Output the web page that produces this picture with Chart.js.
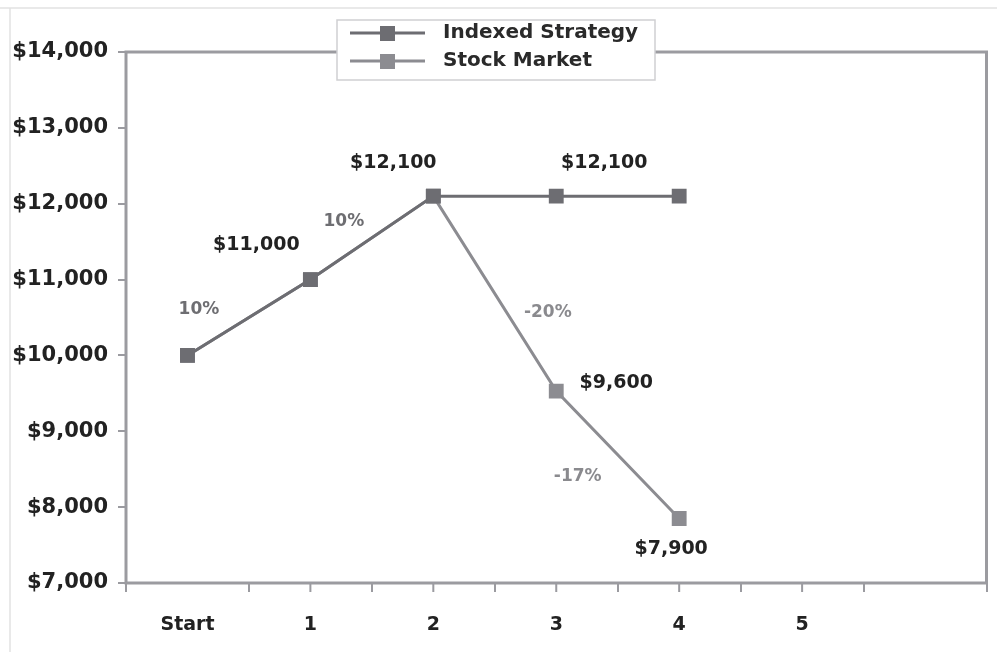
<!DOCTYPE html>
<html>
<head>
<meta charset="utf-8">
<script src="https://cdn.jsdelivr.net/npm/chart.js@4/dist/chart.umd.min.js"></script>
<style>
  html, body { margin: 0; padding: 0; background: #fff; }
  #wrap { width: 997px; height: 652px; position: relative; }
</style>
</head>
<body>
<div id="wrap"><canvas id="lineChart"></canvas></div>
<script>
// chart data
var categories = ['Start', '1', '2', '3', '4', '5', ''];
var indexedValues = [10000, 11000, 12100, 12100, 12100];
var stockValues = [10000, 11000, 12100, 9530, 7850];
var yTicks = [7000, 8000, 9000, 10000, 11000, 12000, 13000, 14000];

// text written next to points (value) and next to segments ending at the index (change)
var indexedValueText = [null, '$11,000', '$12,100', '$12,100', null];
var stockValueText = [null, null, null, '$9,600', '$7,900'];
var indexedChangeText = [null, '10%', '10%', null, null];
var stockChangeText = [null, null, null, '-20%', '-17%'];

var FONT = '"DejaVu Sans", sans-serif';
var AXIS = '#9b9ba0';

// where each note sits relative to its point / segment middle
var noteOffsets = {
    'v0-1': [-54, -35], 'v0-2': [-40, -33], 'v0-3': [48, -33],
    'v1-3': [60, -8], 'v1-4': [-8, 31],
    'c0-1': [-50, -8], 'c0-2': [-28, -16],
    'c1-3': [53, 19], 'c1-4': [-40, 22]
};

var notesPlugin = {
    id: 'notes',
    afterDatasetsDraw: function(chart) {
        var ctx = chart.ctx;
        var valueSets = [indexedValueText, stockValueText];
        var changeSets = [indexedChangeText, stockChangeText];
        ctx.save();
        ctx.textAlign = 'center';
        ctx.textBaseline = 'middle';
        for (var s = 0; s < 2; s++) {
            var pts = chart.getDatasetMeta(s).data;
            valueSets[s].forEach(function(t, i) {
                if (!t) return;
                var o = noteOffsets['v' + s + '-' + i];
                ctx.font = 'bold 19px ' + FONT;
                ctx.fillStyle = '#222';
                ctx.fillText(t, pts[i].x + o[0], pts[i].y + o[1]);
            });
            changeSets[s].forEach(function(t, i) {
                if (!t) return;
                var o = noteOffsets['c' + s + '-' + i];
                var mx = (pts[i - 1].x + pts[i].x) / 2;
                var my = (pts[i - 1].y + pts[i].y) / 2;
                ctx.font = 'bold 17px ' + FONT;
                ctx.fillStyle = s === 0 ? '#6e6e72' : '#8a8a8e';
                ctx.fillText(t, mx + o[0], my + o[1]);
            });
        }
        ctx.restore();
    }
};

var framePlugin = {
    id: 'frame',
    beforeDraw: function(chart) {
        var ctx = chart.ctx;
        ctx.save();
        // faint page edges from the original scan
        ctx.strokeStyle = '#e2e2e2';
        ctx.lineWidth = 1.5;
        ctx.beginPath();
        ctx.moveTo(0, 8); ctx.lineTo(chart.width, 8);
        ctx.moveTo(10, 8); ctx.lineTo(10, chart.height);
        ctx.stroke();
        ctx.restore();
    },
    afterDraw: function(chart) {
        var ctx = chart.ctx;
        var a = chart.chartArea;
        var x = chart.scales.x;
        ctx.save();
        ctx.strokeStyle = AXIS;
        ctx.lineWidth = 3;
        ctx.strokeRect(a.left, a.top, a.right - a.left, a.bottom - a.top);
        // small ticks under the numbered categories
        ctx.lineWidth = 2;
        ctx.beginPath();
        for (var i = 1; i <= 5; i++) {
            var px = x.getPixelForValue(i);
            ctx.moveTo(px, a.bottom);
            ctx.lineTo(px, a.bottom + 9);
        }
        ctx.stroke();

        // legend box
        var bx = 337, by = 20, bw = 318, bh = 60;
        ctx.fillStyle = '#fff';
        ctx.fillRect(bx, by, bw, bh);
        ctx.strokeStyle = '#cfcfd2';
        ctx.lineWidth = 1.5;
        ctx.strokeRect(bx, by, bw, bh);
        chart.data.datasets.forEach(function(ds, k) {
            var ly = by + 13 + k * 28;
            ctx.strokeStyle = ds.borderColor;
            ctx.lineWidth = 3;
            ctx.beginPath();
            ctx.moveTo(bx + 13, ly);
            ctx.lineTo(bx + 88, ly);
            ctx.stroke();
            ctx.fillStyle = ds.backgroundColor;
            ctx.fillRect(bx + 43, ly - 7, 15, 15);
            ctx.fillStyle = '#2a2a2a';
            ctx.font = 'bold 20px ' + FONT;
            ctx.textAlign = 'left';
            ctx.textBaseline = 'middle';
            ctx.fillText(ds.label, bx + 106, ly);
        });
        ctx.restore();
    }
};

var ctx = document.getElementById('lineChart').getContext('2d');
new Chart(ctx, {
    type: 'line',
    data: {
        labels: categories,
        datasets: [
            {
                label: 'Indexed Strategy',
                data: indexedValues,
                borderColor: '#6d6d72',
                backgroundColor: '#6d6d72',
                borderWidth: 3,
                pointStyle: 'rect',
                pointRadius: 10.5,
                pointBorderWidth: 0,
                order: 1
            },
            {
                label: 'Stock Market',
                data: stockValues,
                borderColor: '#8c8c91',
                backgroundColor: '#8c8c91',
                borderWidth: 3,
                pointStyle: 'rect',
                pointRadius: 10.5,
                pointBorderWidth: 0,
                order: 2
            }
        ]
    },
    options: {
        responsive: true,
        maintainAspectRatio: false,
        animation: false,
        layout: { padding: { top: 52, right: 8, left: 0, bottom: 0 } },
        plugins: {
            legend: { display: false },
            tooltip: { enabled: false },
            title: { display: false }
        },
        scales: {
            x: {
                offset: true,
                grid: { offset: true, drawOnChartArea: false, tickLength: 9, color: AXIS, lineWidth: 2 },
                border: { display: false },
                ticks: {
                    autoSkip: false,
                    maxRotation: 0,
                    padding: 22,
                    color: '#222',
                    font: { family: FONT, size: 19, weight: 'bold' }
                },
                afterFit: function(s) { s.height = 69; }
            },
            y: {
                min: yTicks[0],
                max: yTicks[yTicks.length - 1],
                afterBuildTicks: function(s) {
                    s.ticks = yTicks.map(function(v) { return { value: v }; });
                },
                grid: { drawOnChartArea: false, tickLength: 8, color: AXIS, lineWidth: 2 },
                border: { display: false },
                ticks: {
                    padding: 10,
                    color: '#222',
                    font: { family: FONT, size: 21, weight: 'bold' },
                    callback: function(v) { return '$' + Number(v).toLocaleString('en-US'); }
                },
                afterFit: function(s) { s.width = 126; }
            }
        }
    },
    plugins: [framePlugin, notesPlugin]
});
</script>
</body>
</html>
